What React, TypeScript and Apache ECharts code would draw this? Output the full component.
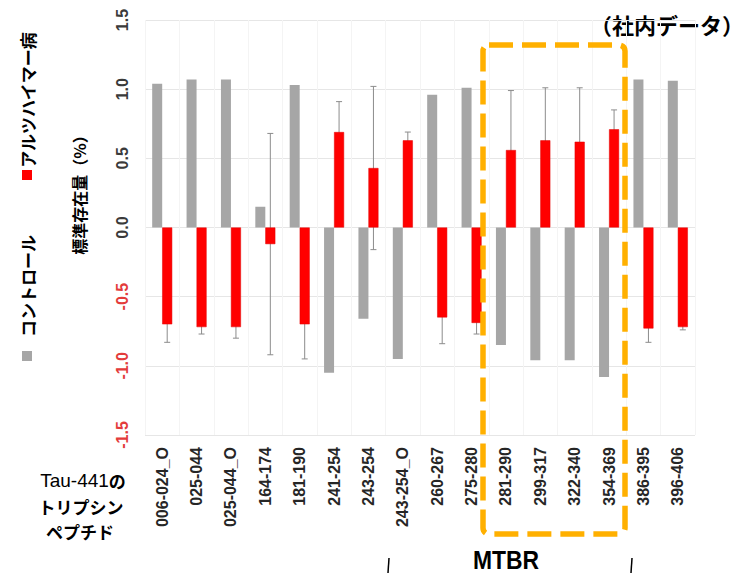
import React, { useEffect, useRef } from "react";
import * as echarts from "echarts";

const categories = [
  "006-024_O", "025-044", "025-044_O", "164-174", "181-190", "241-254", "243-254", "243-254_O",
  "260-267", "275-280", "281-290", "299-317", "322-340", "354-369", "386-395", "396-406",
];
const controlValues = [1.04, 1.07, 1.07, 0.15, 1.03, -1.05, -0.66, -0.95, 0.96, 1.01, -0.85, -0.96, -0.96, -1.08, 1.07, 1.06];
const adValues = [-0.70, -0.72, -0.72, -0.12, -0.70, 0.69, 0.43, 0.63, -0.65, -0.69, 0.56, 0.63, 0.62, 0.71, -0.73, -0.72];
const adErrors = [0.13, 0.05, 0.08, 0.80, 0.25, 0.22, 0.59, 0.06, 0.19, 0.08, 0.43, 0.38, 0.39, 0.14, 0.10, 0.02];
const legendNames = ["コントロール", "アルツハイマー病"];

const LATIN = "'Liberation Sans', Arial, 'Noto Sans CJK JP', sans-serif";
const CJK = "'Noto Sans CJK JP', 'Liberation Sans', sans-serif";

export default function App() {
  const ref = useRef<HTMLDivElement>(null);
  useEffect(() => {
    if (!ref.current) return;
    const chart = echarts.init(ref.current, null, { renderer: "svg" });
    const errStyle = { stroke: "#8C8C8C", lineWidth: 1 };
    const option: any = {
      animation: false,
      backgroundColor: "#ffffff",
      grid: { left: 145, right: 59, top: 20, bottom: 138 },
      xAxis: {
        type: "category",
        data: categories,
        axisLine: { show: false },
        axisTick: { show: false },
        splitLine: { show: true, lineStyle: { color: "#F4F4F4", width: 1 } },
        axisLabel: {
          rotate: 90,
          margin: 12,
          interval: 0,
          fontSize: 16,
          fontWeight: "bold",
          color: "#262626",
          fontFamily: LATIN,
        },
      },
      yAxis: {
        type: "value",
        min: -1.5,
        max: 1.5,
        interval: 0.5,
        axisLine: { show: false },
        axisTick: { show: false },
        splitLine: { show: true, lineStyle: { color: "#E6E6E6", width: 1 } },
        axisLabel: {
          rotate: 90,
          margin: 15,
          fontSize: 16,
          fontWeight: "bold",
          color: "#3A3A3A",
          fontFamily: LATIN,
          formatter: (v: number) => (v < 0 ? `{n|${v.toFixed(1)}}` : v.toFixed(1)),
          rich: {
            n: { color: "#E33B3B", fontSize: 16, fontWeight: "bold", fontFamily: LATIN },
          },
        },
      },
      series: [
        {
          name: legendNames[0],
          type: "bar",
          data: controlValues,
          barWidth: 10,
          barGap: "0%",
          itemStyle: { color: "#A6A6A6" },
          z: 3,
        },
        {
          name: legendNames[1],
          type: "bar",
          data: adValues,
          barWidth: 10,
          barGap: "0%",
          itemStyle: { color: "#FF0000", borderColor: "#E00000", borderWidth: 0.5 },
          z: 3,
        },
        {
          type: "custom",
          z: 2,
          data: adValues.map((v, i) => [i, v, adErrors[i]]),
          encode: { x: 0, y: 1 },
          renderItem: (params: any, api: any) => {
            const i = api.value(0);
            const v = api.value(1);
            const e = api.value(2);
            const top = api.coord([i, v + e]);
            const bot = api.coord([i, v - e]);
            const x = top[0] + 5;
            const cap = 3;
            return {
              type: "group",
              children: [
                { type: "line", shape: { x1: x, y1: top[1], x2: x, y2: bot[1] }, style: errStyle },
                { type: "line", shape: { x1: x - cap, y1: top[1], x2: x + cap, y2: top[1] }, style: errStyle },
                { type: "line", shape: { x1: x - cap, y1: bot[1], x2: x + cap, y2: bot[1] }, style: errStyle },
              ],
            };
          },
        },
      ],
      graphic: [
        {
          type: "text",
          x: 27,
          y: 100,
          rotation: Math.PI / 2,
          style: { text: legendNames[1], fontSize: 17, fontWeight: "bold", fontFamily: CJK, fill: "#000", textAlign: "center", textVerticalAlign: "middle" },
        },
        { type: "rect", shape: { x: 22, y: 170, width: 10, height: 10 }, style: { fill: "#FF0000" } },
        {
          type: "text",
          x: 27,
          y: 286,
          rotation: Math.PI / 2,
          style: { text: legendNames[0], fontSize: 17, fontWeight: "bold", fontFamily: CJK, fill: "#000", textAlign: "center", textVerticalAlign: "middle" },
        },
        { type: "rect", shape: { x: 22, y: 351, width: 10, height: 10 }, style: { fill: "#A6A6A6" } },
        {
          type: "text",
          x: 79,
          y: 191,
          rotation: Math.PI / 2,
          style: { text: "標準存在量（%）", fontSize: 16, fontWeight: "bold", fontFamily: CJK, fill: "#000", textAlign: "center", textVerticalAlign: "middle" },
        },
        {
          type: "text",
          x: 667,
          y: 24,
          style: { text: "（社内データ）", fontSize: 22, fontWeight: "bold", fontFamily: CJK, fill: "#000", textAlign: "center", textVerticalAlign: "middle" },
        },
        {
          type: "text",
          x: 83,
          y: 480,
          style: {
            text: "{a|Tau-441}{b|の}",
            textAlign: "center",
            textVerticalAlign: "middle",
            rich: {
              a: { fontSize: 19, fontFamily: LATIN, fill: "#000", fontWeight: "normal" },
              b: { fontSize: 17, fontFamily: CJK, fill: "#000", fontWeight: "bold" },
            },
          },
        },
        {
          type: "text",
          x: 81,
          y: 506,
          style: { text: "トリプシン", fontSize: 17, fontWeight: "bold", fontFamily: CJK, fill: "#000", textAlign: "center", textVerticalAlign: "middle" },
        },
        {
          type: "text",
          x: 80,
          y: 531,
          style: { text: "ペプチド", fontSize: 17, fontWeight: "bold", fontFamily: CJK, fill: "#000", textAlign: "center", textVerticalAlign: "middle" },
        },
        {
          type: "rect",
          z: 100,
          shape: { x: 483, y: 45, width: 142, height: 489, r: 6 },
          style: { fill: "none", stroke: "#FFB000", lineWidth: 5.5, lineDash: [24, 9] },
        },
        {
          type: "text",
          x: 506,
          y: 560,
          scaleX: 0.88,
          style: { text: "MTBR", fontSize: 26, fontWeight: "bold", fontFamily: LATIN, fill: "#000", textAlign: "center", textVerticalAlign: "middle" },
        },
        { type: "line", shape: { x1: 389, y1: 558, x2: 388, y2: 573 }, style: { stroke: "#000", lineWidth: 1.5 } },
        { type: "line", shape: { x1: 632, y1: 558, x2: 631, y2: 573 }, style: { stroke: "#000", lineWidth: 1.5 } },
      ],
    };
    chart.setOption(option);
    return () => chart.dispose();
  }, []);
  return <div ref={ref} style={{ position: "fixed", left: 0, top: 0, width: 754, height: 573 }} />;
}
